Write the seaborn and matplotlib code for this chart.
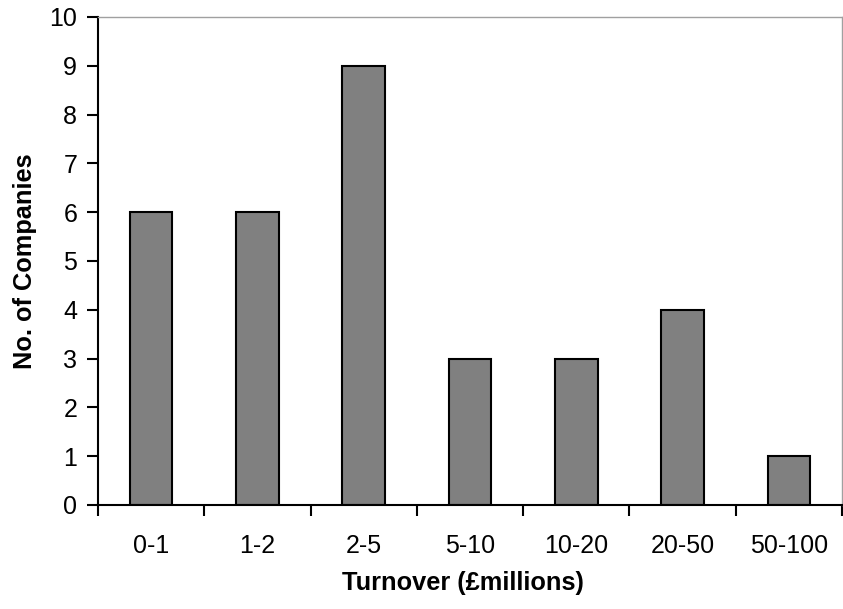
import matplotlib
matplotlib.use("Agg")
import matplotlib.pyplot as plt
import seaborn as sns
import pandas as pd

categories = ["0-1", "1-2", "2-5", "5-10", "10-20", "20-50", "50-100"]
companies = [6, 6, 9, 3, 3, 4, 1]
y_ticks = list(range(0, 11))

sns.set_theme(style="white")
plt.rcParams["font.family"] = ["Liberation Sans", "DejaVu Sans"]
plt.rcParams["text.color"] = "black"
plt.rcParams["axes.labelcolor"] = "black"
plt.rcParams["xtick.color"] = "black"
plt.rcParams["ytick.color"] = "black"

df = pd.DataFrame({"Turnover": categories, "Companies": companies})

fig = plt.figure(figsize=(8.43, 6.09), dpi=100)
ax = fig.add_axes([98 / 843, (609 - 505) / 609, (842 - 98) / 843, (505 - 17) / 609])

sns.barplot(data=df, x="Turnover", y="Companies", color="#808080",
            saturation=1, width=0.4, edgecolor="black", linewidth=1.5, ax=ax)

ax.set_xlim(-0.5, len(categories) - 0.5)
ax.set_ylim(0, 10)
ax.set_yticks(y_ticks)
ax.set_yticklabels([str(t) for t in y_ticks])

# category boundary ticks on the x-axis, labels centred under the bars
ax.set_xticks([i - 0.5 for i in range(len(categories) + 1)], minor=False)
ax.set_xticklabels([""] * (len(categories) + 1))
ax.set_xticks(range(len(categories)), minor=True)
ax.set_xticklabels(categories, minor=True)
ax.tick_params(axis="x", which="major", bottom=True, direction="out",
               length=8, width=1.5, color="black")
ax.tick_params(axis="x", which="minor", bottom=True, length=0, pad=21,
               labelsize=18, labelcolor="black")
ax.tick_params(axis="y", left=True, direction="out", length=8, width=1.5,
               color="black", pad=7, labelsize=18, labelcolor="black")

for side in ("left", "bottom"):
    ax.spines[side].set_color("black")
    ax.spines[side].set_linewidth(1.5)
for side in ("top", "right"):
    ax.spines[side].set_color("#a0a0a0")
    ax.spines[side].set_linewidth(1.0)

ax.set_xlabel("Turnover (£millions)", fontsize=18.3, fontweight="bold",
              labelpad=9, color="black")
ax.xaxis.label.set_x(0.4906)
ax.set_ylabel("No. of Companies", fontsize=18.3, fontweight="bold",
              labelpad=9, color="black")

fig.savefig("out.png", dpi=100)
